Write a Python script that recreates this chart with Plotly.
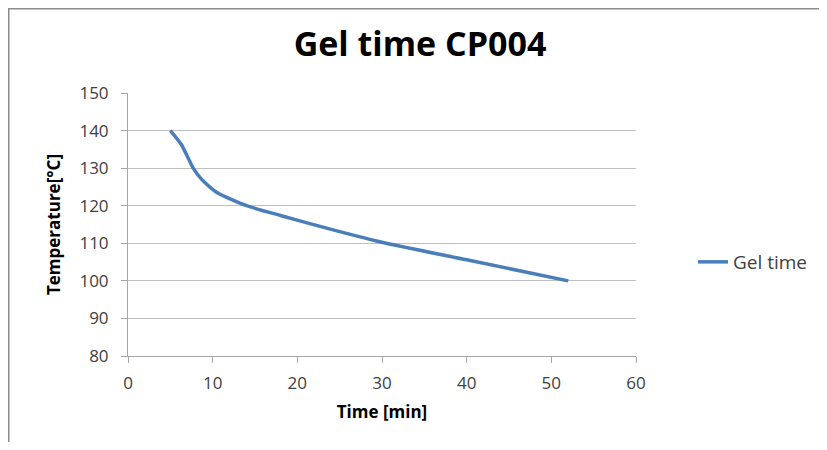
import plotly.graph_objects as go

time_min = [5, 6.3, 7.7, 8.7, 10.5, 14, 18, 24, 30.5, 40, 52]
temperature_c = [140, 136.3, 130, 127, 123.5, 120, 117.4, 113.7, 110, 105.6, 100]
x_ticks = [0, 10, 20, 30, 40, 50, 60]
y_ticks = [80, 90, 100, 110, 120, 130, 140, 150]

# page has an 8px body margin, so the figure is drawn from screen (8, 8)
OFF = 8
W, H = 811, 434
L, T = 128 - OFF, 93 - OFF
R = W - (636 - OFF)
B = H - (356 - OFF)
pw, ph = W - L - R, H - T - B

def sx(p):  # screen pixel x -> paper x
    return (p - OFF - L) / pw

def sy(p):  # screen pixel y -> paper y
    return (H - B - (p - OFF)) / ph

fig = go.Figure()
fig.add_trace(go.Scatter(
    x=time_min, y=temperature_c, mode="lines", name="Gel time",
    line=dict(color="#4a7ebb", width=3.5, shape="spline", smoothing=0.6),
))

font_family = "Open Sans, Lato, sans-serif"
fig.update_layout(
    width=W, height=H,
    margin=dict(l=L, r=R, t=T, b=B, autoexpand=False),
    paper_bgcolor="white", plot_bgcolor="white",
    font=dict(family=font_family, color="#404040"),
    title=dict(text="<b>Gel time CP004</b>", x=sx(420), xref="paper",
               xanchor="center", y=1 - (44 - OFF) / H, yanchor="middle",
               font=dict(size=34, color="black", family=font_family)),
    showlegend=True,
    legend=dict(x=sx(693), y=sy(262), xref="paper", yref="paper",
                xanchor="left", yanchor="middle", bgcolor="rgba(0,0,0,0)",
                font=dict(size=19, color="#404040")),
    xaxis=dict(range=[0, 60], tickvals=x_ticks, showgrid=False, zeroline=False,
               showline=True, linecolor="#a6a6a6", linewidth=1,
               ticks="outside", ticklen=6, tickcolor="#a6a6a6",
               ticklabelstandoff=6,
               tickfont=dict(size=17, color="#404040"),
               title=dict(text="<b>Time [min]</b>", font=dict(size=17, color="black"), standoff=12)),
    yaxis=dict(range=[80, 150], tickvals=y_ticks, showgrid=True, gridcolor="#bfbfbf",
               gridwidth=1, zeroline=False,
               showline=True, linecolor="#a6a6a6", linewidth=1,
               ticks="outside", ticklen=6, tickcolor="#a6a6a6",
               ticklabelstandoff=9,
               tickfont=dict(size=17, color="#404040"),
               title=dict(text="<b>Temperature[°C]</b>", font=dict(size=17, color="black"), standoff=14)),
)

fig.add_shape(type="rect", xref="paper", yref="paper",
              x0=sx(8.75), x1=sx(860), y0=sy(480), y1=sy(8.75),
              line=dict(color="#8c8c8c", width=1.5), fillcolor="rgba(0,0,0,0)", layer="below")

fig.write_html("out.html")
